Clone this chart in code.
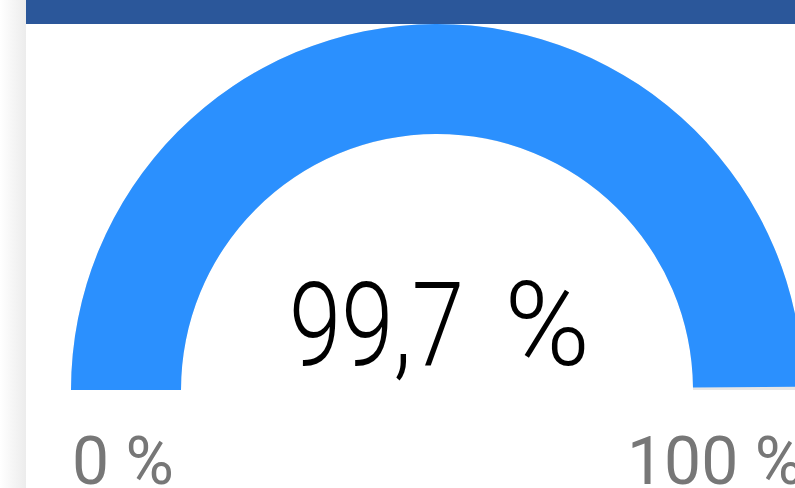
<!DOCTYPE html>
<html>
<head>
<meta charset="utf-8">
<script src="https://cdn.jsdelivr.net/npm/d3@7"></script>
<style>
  html, body { margin: 0; padding: 0; background: #fff; overflow: hidden; }
</style>
</head>
<body>
<div id="canvas"></div>
<script>
// gauge data
const gaugeDomain = [0, 100];
const gaugeValue = [99.7];
const valueNumber = ["99,7"];
const valueUnit = ["%"];
const rangeLabels = ["0 %", "100 %"];

const dims = { width: 795, height: 488 };
const center = { x: 437, y: 390 };
const radius = { outer: 366, inner: 256 };

const svg = d3
  .select("#canvas")
  .append("svg")
  .attr("width", dims.width)
  .attr("height", dims.height);

// card shadow on the left
const defs = svg.append("defs");
const grad = defs
  .append("linearGradient")
  .attr("id", "shadow")
  .attr("x1", "0%")
  .attr("x2", "100%");
grad.append("stop").attr("offset", "0%").attr("stop-color", "#ffffff");
grad.append("stop").attr("offset", "100%").attr("stop-color", "#ececec");

svg
  .append("rect")
  .attr("x", 0)
  .attr("y", 0)
  .attr("width", 26)
  .attr("height", dims.height)
  .attr("fill", "url(#shadow)");

// header bar
svg
  .append("rect")
  .attr("x", 26)
  .attr("y", 0)
  .attr("width", dims.width - 26)
  .attr("height", 24)
  .attr("fill", "#2b579a");

const angle = d3
  .scaleLinear()
  .domain(gaugeDomain)
  .range([-Math.PI / 2, Math.PI / 2]);

const arcGen = d3
  .arc()
  .innerRadius(radius.inner)
  .outerRadius(radius.outer);

const graph = svg
  .append("g")
  .attr("transform", `translate(${center.x}, ${center.y})`);

// track
graph
  .append("path")
  .attr("d", arcGen({ startAngle: angle(gaugeDomain[0]), endAngle: angle(gaugeDomain[1]) }))
  .attr("fill", "#e6e6e6");

// value
graph
  .selectAll("path.value")
  .data(gaugeValue)
  .enter()
  .append("path")
  .attr("class", "value")
  .attr("d", d => arcGen({ startAngle: angle(gaugeDomain[0]), endAngle: angle(d) }))
  .attr("fill", "#2b90fe");

// value label (condensed number + unit)
const valueText = svg
  .append("text")
  .attr("y", 365)
  .attr("font-family", "Roboto")
  .attr("font-weight", 300)
  .attr("font-size", 116)
  .attr("fill", "#000");

valueText
  .append("tspan")
  .attr("x", 289)
  .attr("textLength", 175)
  .attr("lengthAdjust", "spacingAndGlyphs")
  .text(valueNumber[0]);

valueText
  .append("tspan")
  .attr("x", 476)
  .text(" " + valueUnit[0]);

// min / max labels
const labelX = [72, 627];
svg
  .selectAll("text.range")
  .data(rangeLabels)
  .enter()
  .append("text")
  .attr("class", "range")
  .attr("x", (d, i) => labelX[i])
  .attr("y", 484)
  .attr("font-family", "Roboto")
  .attr("font-size", 66)
  .attr("fill", "#777")
  .text(d => d);
</script>
</body>
</html>
